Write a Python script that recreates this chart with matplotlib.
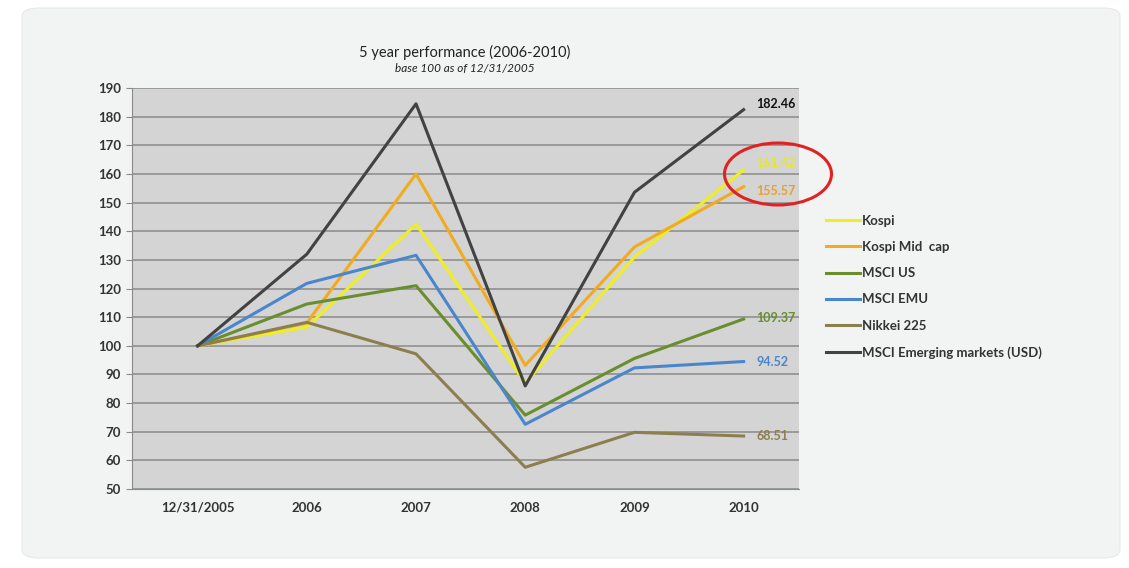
import matplotlib.pyplot as plt
from matplotlib.patches import Ellipse, FancyBboxPatch

plt.rcParams['font.family'] = ['Lato', 'DejaVu Sans']

# categories and series (base 100 at 12/31/2005)
categories = ['12/31/2005', '2006', '2007', '2008', '2009', '2010']
kospi = [100, 106.5, 142.5, 87.0, 131.0, 161.42]
kospi_mid = [100, 108.0, 160.0, 93.2, 134.5, 155.57]
msci_us = [100, 114.6, 121.0, 75.8, 95.6, 109.37]
msci_emu = [100, 121.8, 131.6, 72.6, 92.3, 94.52]
nikkei = [100, 108.2, 97.2, 57.6, 69.8, 68.51]
msci_em = [100, 132.0, 184.5, 86.0, 153.6, 182.46]

series_names = ['Kospi', 'Kospi Mid  cap', 'MSCI US', 'MSCI EMU', 'Nikkei 225',
                'MSCI Emerging markets (USD)']
series = [kospi, kospi_mid, msci_us, msci_emu, nikkei, msci_em]
colors = ['#eeee22', '#f0ab1e', '#6a8e2e', '#4a86cc', '#8c7f4f', '#424242']
label_colors = ['#e8e820', '#e8a030', '#6a8e2e', '#4a86cc', '#8c7f4f', '#111111']
label_offsets = [5, -3, 1, 0, 0, 4]  # vertical nudge in points

fig = plt.figure(figsize=(11.29, 5.68), dpi=100)
fig.patch.set_facecolor('white')

# light panel behind the chart
panel = FancyBboxPatch((22 / 1129, 10 / 568), 1098 / 1129, 550 / 568,
                       boxstyle='round,pad=0,rounding_size=0.015',
                       transform=fig.transFigure, facecolor='#f2f3f3',
                       edgecolor='#e8e8e8', lw=0.8, zorder=-10)
fig.patches.append(panel)

ax = fig.add_axes([0.117, 0.139, 0.591, 0.706])
ax.set_facecolor('#d4d4d4')

x = list(range(len(categories)))
for name, ys, c in zip(series_names, series, colors):
    ax.plot(x, ys, color=c, lw=2.2, label=name, zorder=3)

# end labels
for ys, c, dy in zip(series, label_colors, label_offsets):
    ax.annotate(f'{ys[-1]:.2f}', (x[-1], ys[-1]), xytext=(9, dy),
                textcoords='offset points', va='center', ha='left',
                color=c, fontsize=9, fontweight='bold', zorder=4)

ax.set_xlim(-0.6, 5.51)
ax.set_ylim(50, 190)
ax.set_yticks(range(50, 191, 10))
ax.set_xticks(x)
ax.set_xticklabels(categories)
ax.yaxis.grid(True, color='#8a8a8a', lw=1.1)
ax.set_axisbelow(True)
for s in ['top', 'right']:
    ax.spines[s].set_visible(False)
ax.spines['left'].set_color('#8a8a8a')
ax.spines['bottom'].set_color('#8a8a8a')
ax.tick_params(axis='y', length=4, color='#8a8a8a', labelsize=9.5,
               labelcolor='#333333', pad=4)
ax.tick_params(axis='x', length=0, labelsize=9.5, labelcolor='#333333', pad=9)
for lab in ax.get_xticklabels() + ax.get_yticklabels():
    lab.set_fontweight('bold')

fig.text(0.412, 0.908, '5 year performance (2006-2010)', ha='center',
         va='center', fontsize=10.5, color='#222222')
fig.text(0.412, 0.880, 'base 100 as of 12/31/2005', ha='center', va='center',
         fontsize=8.5, style='italic', color='#222222')

leg = fig.legend(loc='upper left', bbox_to_anchor=(0.721, 0.643), frameon=False,
                 fontsize=9.5, handlelength=2.6, handletextpad=0.1,
                 labelspacing=1.08)
for t in leg.get_texts():
    t.set_color('#333333')
    t.set_fontweight('bold')

# red highlight ellipse around Kospi labels
ell = Ellipse((778 / 1129, 1 - 174 / 568), 107 / 1129, 62 / 568,
              transform=fig.transFigure, fill=False, edgecolor='#e02222',
              lw=2.2, zorder=5)
fig.patches.append(ell)

fig.savefig('out.png', dpi=100)
